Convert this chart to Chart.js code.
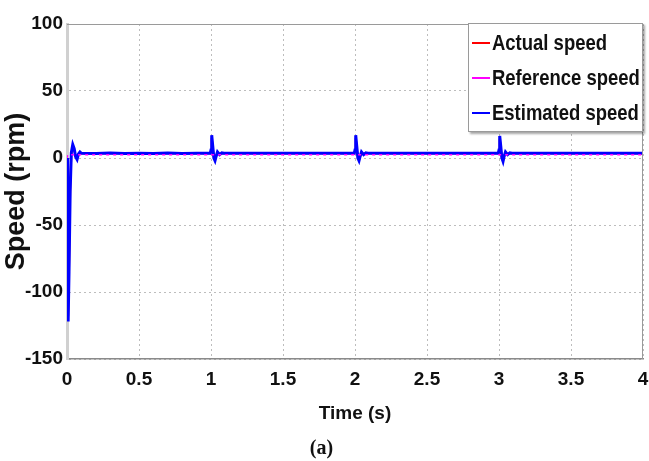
<!DOCTYPE html>
<html>
<head>
<meta charset="utf-8">
<script src="https://cdn.jsdelivr.net/npm/chart.js@4.4.0/dist/chart.umd.min.js"></script>
<style>
  html, body { margin: 0; padding: 0; background: #fff; }
</style>
</head>
<body>
<canvas id="speed-chart" width="649" height="461"></canvas>
<script>
// time axis (s) and the three speed traces (rpm)
var time = [0, 0.004, 0.008, 0.014, 0.022, 0.03, 0.04, 0.05, 0.06, 0.07, 0.08, 0.09, 0.1,
  0.2, 0.3, 0.4, 0.5, 0.6, 0.7, 0.8, 0.9,
  0.995, 1.0, 1.005, 1.012, 1.02, 1.028, 1.035, 1.045, 1.06, 1.075, 1.09, 1.2, 1.5, 1.8,
  1.995, 2.0, 2.005, 2.012, 2.02, 2.028, 2.035, 2.045, 2.06, 2.075, 2.09, 2.2, 2.5, 2.8,
  2.995, 3.0, 3.005, 3.012, 3.02, 3.028, 3.035, 3.045, 3.06, 3.075, 3.09, 3.2, 3.5, 3.8,
  4.0];

var actualSpeed = [0, -58, -118, -82, -22, 3, 9, 6, 1, 0, 3, 4, 3.5,
  3.5, 3.5, 3.5, 3.5, 3.5, 3.5, 3.5, 3.5,
  3.5, 5, 15, 8, 0, -1.5, 1, 4, 3, 3.6, 3.5, 3.5, 3.5, 3.5,
  3.5, 5, 15, 8, 0, -1.5, 1, 4, 3, 3.6, 3.5, 3.5, 3.5, 3.5,
  3.5, 5, 14.5, 8, 0, -2, 1, 4, 3, 3.6, 3.5, 3.5, 3.5, 3.5,
  3.5];

var referenceSpeed = [0, 2.5, 2.5, 2.5, 2.5, 2.5, 2.5, 2.5, 2.5, 2.5, 2.5, 2.5, 2.5,
  2.5, 2.5, 2.5, 2.5, 2.5, 2.5, 2.5, 2.5,
  2.5, 2.5, 2.5, 2.5, 2.5, 2.5, 2.5, 2.5, 2.5, 2.5, 2.5, 2.5, 2.5, 2.5,
  2.5, 2.5, 2.5, 2.5, 2.5, 2.5, 2.5, 2.5, 2.5, 2.5, 2.5, 2.5, 2.5, 2.5,
  2.5, 2.5, 2.5, 2.5, 2.5, 2.5, 2.5, 2.5, 2.5, 2.5, 2.5, 2.5, 2.5, 2.5,
  2.5];

var estimatedSpeed = [0, -62, -122, -85, -25, 4, 10, 7, 1, -1, 3, 4.5, 3.5,
  3.3, 3.7, 3.4, 3.6, 3.3, 3.7, 3.4, 3.5,
  3.5, 6, 17, 9, 0, -2, 1, 4.5, 2.5, 3.8, 3.5, 3.5, 3.5, 3.5,
  3.5, 6, 17, 9, 0, -2, 1, 4.5, 2.5, 3.8, 3.5, 3.5, 3.5, 3.5,
  3.5, 6, 16.5, 9, 0, -2.5, 1, 4.5, 2.5, 3.8, 3.5, 3.5, 3.5, 3.5,
  3.5];

var seriesNames = ['Actual speed', 'Reference speed', 'Estimated speed'];
var xTicks = [0, 0.5, 1, 1.5, 2, 2.5, 3, 3.5, 4];
var yTicks = [-150, -100, -50, 0, 50, 100];

var sansFont = "'Liberation Sans', Arial, sans-serif";

function toPoints(values) {
  return values.map(function (v, i) {
    return { x: time[i], y: v };
  });
}

// box around the plot + legend drawn inside the top right corner
var frameAndLegend = {
  id: 'frameAndLegend',
  afterDatasetsDraw: function (chart) {
    var ctx = chart.ctx;
    var area = chart.chartArea;

    ctx.save();
    ctx.strokeStyle = '#9a9a9a';
    ctx.lineWidth = 1;
    ctx.beginPath();
    ctx.moveTo(area.left, area.top + 0.5);
    ctx.lineTo(area.right - 0.5, area.top + 0.5);
    ctx.lineTo(area.right - 0.5, area.bottom);
    ctx.stroke();

    var w = 175, h = 109;
    var x0 = area.right - w, y0 = area.top - 1;
    ctx.shadowColor = 'rgba(0,0,0,0.35)';
    ctx.shadowOffsetX = 2;
    ctx.shadowOffsetY = 2;
    ctx.shadowBlur = 2;
    ctx.fillStyle = '#fff';
    ctx.fillRect(x0, y0, w, h);
    ctx.shadowColor = 'transparent';
    ctx.strokeStyle = '#9a9a9a';
    ctx.strokeRect(x0 + 0.5, y0 + 0.5, w - 1, h - 1);

    ctx.font = 'bold 22px ' + sansFont;
    ctx.textBaseline = 'middle';
    ctx.textAlign = 'left';
    chart.data.datasets.forEach(function (ds, i) {
      var yy = y0 + 20 + i * 35;
      ctx.strokeStyle = ds.borderColor;
      ctx.lineWidth = 2;
      ctx.beginPath();
      ctx.moveTo(x0 + 4, yy);
      ctx.lineTo(x0 + 22, yy);
      ctx.stroke();
      // squeeze the text to look like the narrow font of the original
      ctx.save();
      ctx.translate(x0 + 24, yy);
      ctx.scale(0.84, 1);
      ctx.fillStyle = '#111';
      ctx.fillText(ds.label, 0, 1);
      ctx.restore();
    });
    ctx.restore();
  }
};

var chart = new Chart(document.getElementById('speed-chart').getContext('2d'), {
  type: 'scatter',
  data: {
    datasets: [{
      label: seriesNames[0],
      data: toPoints(actualSpeed),
      borderColor: '#ff0000',
      borderWidth: 2,
      order: 2
    }, {
      label: seriesNames[1],
      data: toPoints(referenceSpeed),
      borderColor: '#ff00ff',
      borderWidth: 1.5,
      borderDash: [3, 4],
      order: 0
    }, {
      label: seriesNames[2],
      data: toPoints(estimatedSpeed),
      borderColor: '#0000ff',
      borderWidth: 3,
      order: 1
    }]
  },
  options: {
    responsive: false,
    animation: false,
    showLine: true,
    elements: {
      point: { radius: 0 },
      line: { tension: 0 }
    },
    layout: {
      padding: { left: 0, right: 6, top: 24, bottom: 0 }
    },
    plugins: {
      legend: { display: false },
      tooltip: { enabled: false },
      title: {
        display: true,
        position: 'bottom',
        text: '(a)',
        color: '#111',
        font: { family: "'Liberation Serif', serif", size: 20, weight: 'bold' },
        padding: { top: 12, bottom: 0 }
      }
    },
    scales: {
      x: {
        type: 'linear',
        min: 0,
        max: 4,
        afterBuildTicks: function (scale) {
          scale.ticks = xTicks.map(function (v) { return { value: v }; });
        },
        afterFit: function (scale) {
          scale.height = 66;
          scale.paddingLeft = 0;
          scale.paddingRight = 0;
        },
        grid: { color: '#bdbdbd', drawTicks: false },
        border: { color: '#8a8a8a', width: 1.5, dash: [2, 3] },
        ticks: {
          color: '#111',
          padding: 9,
          maxRotation: 0,
          font: { family: sansFont, size: 19, weight: 'bold' },
          callback: function (v) { return String(v); }
        },
        title: {
          display: true,
          text: 'Time (s)',
          color: '#111',
          font: { family: sansFont, size: 19, weight: 'bold' },
          padding: { top: 0, bottom: 0 }
        }
      },
      y: {
        min: -150,
        max: 100,
        afterBuildTicks: function (scale) {
          scale.ticks = yTicks.map(function (v) { return { value: v }; });
        },
        afterFit: function (scale) { scale.width = 67; },
        grid: { color: '#bdbdbd', drawTicks: false },
        border: { color: '#d0d0d0', width: 3, dash: [2, 3] },
        ticks: {
          color: '#111',
          padding: 4,
          font: { family: sansFont, size: 19, weight: 'bold' },
          callback: function (v) { return String(v); }
        },
        title: {
          display: true,
          text: 'Speed (rpm)',
          color: '#111',
          font: { family: sansFont, size: 27, weight: 'bold' },
          padding: { top: 0, bottom: 0 }
        }
      }
    }
  },
  plugins: [frameAndLegend]
});
</script>
</body>
</html>
